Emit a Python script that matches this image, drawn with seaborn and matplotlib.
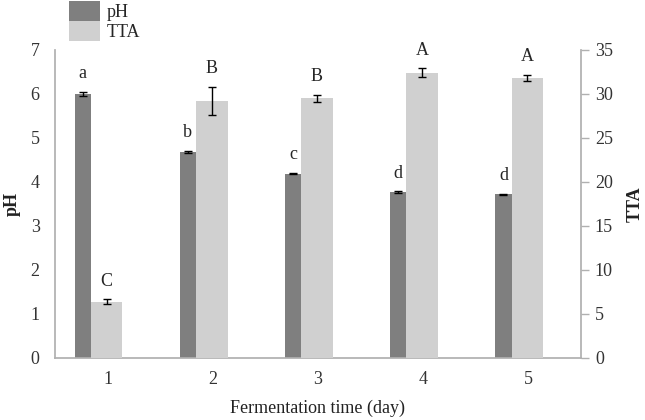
import numpy as np
import pandas as pd
import matplotlib
matplotlib.use("Agg")
import matplotlib.pyplot as plt
import seaborn as sns
from matplotlib.patches import Patch

days = ["1", "2", "3", "4", "5"]
ph = [6.00, 4.68, 4.19, 3.77, 3.72]
ph_err = [0.05, 0.02, 0.01, 0.02, 0.01]
ph_letters = ["a", "b", "c", "d", "d"]
tta = [6.4, 29.2, 29.5, 32.4, 31.8]
tta_err = [0.25, 1.6, 0.4, 0.5, 0.35]
tta_letters = ["C", "B", "B", "A", "A"]

sns.set_theme(style="white")
plt.rcParams['font.family'] = ['Liberation Serif', 'DejaVu Serif']

FS = 13
dark = "#7f7f7f"
light = "#d0d0d0"
spine_c = "#b0b0b0"

fig = plt.figure(figsize=(6.45, 4.2), dpi=100)
ax1 = fig.add_axes([55/645, 1-358/420, (581-55)/645, (358-50)/420])
ax2 = ax1.twinx()

df = pd.DataFrame({"day": days, "pH": ph, "TTA": tta})

ph_off, ph_w = -0.237, 0.155
tta_off, tta_w = -0.01, 0.30

sns.barplot(data=df, x="day", y="pH", ax=ax1, color=dark, width=ph_w,
            saturation=1, errorbar=None, linewidth=0)
sns.barplot(data=df, x="day", y="TTA", ax=ax2, color=light, width=tta_w,
            saturation=1, errorbar=None, linewidth=0)

for p in ax1.patches:
    p.set_x(p.get_x() + ph_off)
for p in ax2.patches:
    p.set_x(p.get_x() + tta_off)

pos = np.arange(len(days))
ax1.errorbar(pos + ph_off, ph, yerr=ph_err, fmt='none', ecolor='black',
             elinewidth=1, capsize=3, capthick=1)
ax2.errorbar(pos + tta_off, tta, yerr=tta_err, fmt='none', ecolor='black',
             elinewidth=1, capsize=3, capthick=1)

for i in range(len(days)):
    ax1.annotate(ph_letters[i], (pos[i] + ph_off, ph[i] + ph_err[i]),
                 xytext=(0, 7), textcoords='offset points', ha='center',
                 va='bottom', fontsize=FS)
    ax2.annotate(tta_letters[i], (pos[i] + tta_off, tta[i] + tta_err[i]),
                 xytext=(0, 7), textcoords='offset points', ha='center',
                 va='bottom', fontsize=FS)

ax1.set_xlim(-0.5, 4.5)
ax1.set_ylim(0, 7)
ax2.set_ylim(0, 35)
ax1.set_yticks(range(0, 8))
ax2.set_yticks(range(0, 36, 5))

for ax in (ax1, ax2):
    ax.grid(False)
    for s in ax.spines.values():
        s.set_visible(False)
ax1.spines['left'].set_visible(True)
ax1.spines['bottom'].set_visible(True)
ax2.spines['right'].set_visible(True)
ax1.spines['left'].set_color(spine_c)
ax1.spines['bottom'].set_color(spine_c)
ax2.spines['right'].set_color(spine_c)

ax1.tick_params(axis='y', length=0, pad=11, labelsize=FS, colors='#333333')
ax1.tick_params(axis='x', length=0, pad=9, labelsize=FS, colors='#333333')
ax2.tick_params(axis='y', length=6, width=1, color=spine_c, pad=4,
                labelsize=FS, labelcolor='#333333', direction='out')

ax1.set_xlabel("Fermentation time (day)", fontsize=FS, labelpad=9, color='#222222')
ax1.set_ylabel("pH", fontsize=FS, fontweight='bold', labelpad=7, color='#222222')
ax2.set_ylabel("TTA", fontsize=FS, fontweight='bold', rotation=90, labelpad=10,
               color='#222222')

handles = [Patch(facecolor=dark, edgecolor='none'),
           Patch(facecolor=light, edgecolor='none')]
fig.legend(handles, ["pH", "TTA"], loc='upper left',
           bbox_to_anchor=(69/645, 1 - 1/420), frameon=False, fontsize=FS,
           handlelength=1.7, handleheight=1.3, labelspacing=0.0,
           handletextpad=0.4, borderaxespad=0.0, borderpad=0.0)

fig.savefig("out.png", dpi=100)
